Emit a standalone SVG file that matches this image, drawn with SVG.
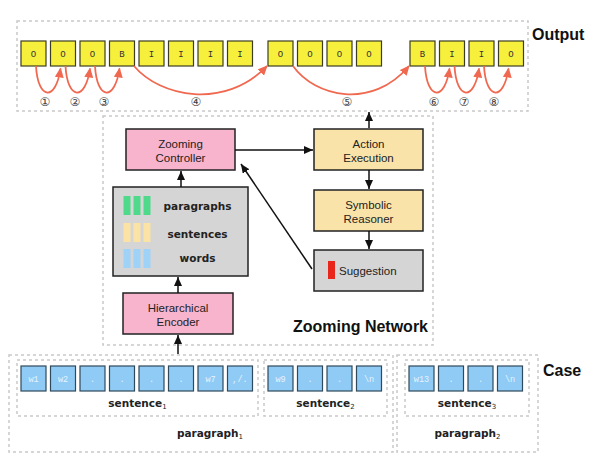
<svg xmlns="http://www.w3.org/2000/svg" width="596" height="473" viewBox="0 0 596 473">
<defs>
<style>
.dash{fill:none;stroke:#c9c9c9;stroke-width:1.5;stroke-dasharray:3 3}
.tag{fill:#f6ef3c;stroke:#3d3d24;stroke-width:1.2}
.tagt{font-family:"Liberation Mono",monospace;font-size:9px;fill:#333;text-anchor:middle}
.word{fill:#8fcbf5;stroke:#2f4a5c;stroke-width:1.2}
.wordt{font-family:"Liberation Mono",monospace;font-size:8.5px;fill:#e6f3fd;text-anchor:middle}
.pink{fill:#f8b4cd;stroke:#222;stroke-width:1.5}
.tan{fill:#fae3a9;stroke:#222;stroke-width:1.5}
.gray{fill:#d5d5d5;stroke:#222;stroke-width:1.5}
.lbl{font-family:"Liberation Sans",Arial,sans-serif;font-size:11.5px;fill:#222;text-anchor:middle}
.lbls{font-family:"Liberation Sans",Arial,sans-serif;font-size:11.5px;fill:#222;text-anchor:start}
.bold{font-family:"DejaVu Sans",sans-serif;font-weight:bold;font-size:10.5px;fill:#222;text-anchor:middle}
.head{font-family:"Liberation Sans",Arial,sans-serif;font-weight:bold;font-size:16px;fill:#111}
.red{fill:none;stroke:#f0684f;stroke-width:1.8;marker-end:url(#ra)}
.blk{fill:none;stroke:#111;stroke-width:1.5;marker-end:url(#ba)}
.num{font-family:"DejaVu Sans",sans-serif;font-size:12px;fill:#444;text-anchor:middle}
</style>
<marker id="ra" markerUnits="userSpaceOnUse" markerWidth="10" markerHeight="9" refX="9" refY="4.5" orient="auto"><path d="M0,0 L10,4.5 L0,9 z" fill="#f0684f"/></marker>
<marker id="ba" markerUnits="userSpaceOnUse" markerWidth="9" markerHeight="8" refX="9" refY="4" orient="auto"><path d="M0,0 L9,4 L0,8 z" fill="#111"/></marker>
</defs>
<rect width="596" height="473" fill="#fff"/>

<g id="output">
<rect class="dash" x="17" y="21" width="511" height="90"/>
<text class="head" x="532" y="40">Output</text>
<rect class="tag" x="21" y="41" width="25" height="25"/><text class="tagt" x="33.5" y="57">O</text>
<rect class="tag" x="50.5" y="41" width="25" height="25"/><text class="tagt" x="63" y="57">O</text>
<rect class="tag" x="80" y="41" width="25" height="25"/><text class="tagt" x="92.5" y="57">O</text>
<rect class="tag" x="109.5" y="41" width="25" height="25"/><text class="tagt" x="122" y="57">B</text>
<rect class="tag" x="139" y="41" width="25" height="25"/><text class="tagt" x="151.5" y="57">I</text>
<rect class="tag" x="168.5" y="41" width="25" height="25"/><text class="tagt" x="181" y="57">I</text>
<rect class="tag" x="198" y="41" width="25" height="25"/><text class="tagt" x="210.5" y="57">I</text>
<rect class="tag" x="227.5" y="41" width="25" height="25"/><text class="tagt" x="240" y="57">I</text>
<rect class="tag" x="268" y="41" width="25" height="25"/><text class="tagt" x="280.5" y="57">O</text>
<rect class="tag" x="297.5" y="41" width="25" height="25"/><text class="tagt" x="310" y="57">O</text>
<rect class="tag" x="327" y="41" width="25" height="25"/><text class="tagt" x="339.5" y="57">O</text>
<rect class="tag" x="356.5" y="41" width="25" height="25"/><text class="tagt" x="369" y="57">O</text>
<rect class="tag" x="410" y="41" width="25" height="25"/><text class="tagt" x="422.5" y="57">B</text>
<rect class="tag" x="439.5" y="41" width="25" height="25"/><text class="tagt" x="452" y="57">I</text>
<rect class="tag" x="469" y="41" width="25" height="25"/><text class="tagt" x="481.5" y="57">I</text>
<rect class="tag" x="498.5" y="41" width="25" height="25"/><text class="tagt" x="511" y="57">O</text>
<text class="num" x="45" y="106">①</text>
<text class="num" x="75" y="106">②</text>
<text class="num" x="104" y="106">③</text>
<text class="num" x="196" y="106">④</text>
<text class="num" x="347" y="106">⑤</text>
<text class="num" x="434" y="106">⑥</text>
<text class="num" x="464" y="106">⑦</text>
<text class="num" x="494" y="106">⑧</text>
</g>

<g id="zooming-network">
<rect class="dash" x="103" y="116" width="330" height="229"/>
<text class="head" x="428" y="332" text-anchor="end">Zooming Network</text>
</g>

<g id="zooming-controller">
<rect class="pink" x="126" y="129" width="109" height="41"/>
<text class="lbl" x="180.5" y="147.5">Zooming</text>
<text class="lbl" x="180.5" y="161.5">Controller</text>
</g>

<g id="action-execution">
<rect class="tan" x="314" y="129" width="109" height="41"/>
<text class="lbl" x="368.5" y="147.5">Action</text>
<text class="lbl" x="368.5" y="161.5">Execution</text>
</g>

<g id="symbolic-reasoner">
<rect class="tan" x="314" y="190" width="109" height="41"/>
<text class="lbl" x="368.5" y="208.5">Symbolic</text>
<text class="lbl" x="368.5" y="222.5">Reasoner</text>
</g>

<g id="suggestion">
<rect class="gray" x="314" y="250" width="109" height="41"/>
<rect x="328" y="261" width="7" height="18" fill="#e8261c"/>
<text class="lbls" x="339" y="274.5">Suggestion</text>
</g>

<g id="representations">
<rect class="gray" x="113" y="187" width="135" height="89"/>
<rect x="123.5" y="196" width="7" height="19" fill="#4fd98b"/>
<rect x="133.5" y="196" width="7" height="19" fill="#4fd98b"/>
<rect x="143.5" y="196" width="7" height="19" fill="#4fd98b"/>
<rect x="123.5" y="223" width="7" height="19" fill="#fbe3a6"/>
<rect x="133.5" y="223" width="7" height="19" fill="#fbe3a6"/>
<rect x="143.5" y="223" width="7" height="19" fill="#fbe3a6"/>
<rect x="123.5" y="249" width="7" height="19" fill="#9fd2f7"/>
<rect x="133.5" y="249" width="7" height="19" fill="#9fd2f7"/>
<rect x="143.5" y="249" width="7" height="19" fill="#9fd2f7"/>
<text class="bold" x="197.5" y="210">paragraphs</text>
<text class="bold" x="197.5" y="238">sentences</text>
<text class="bold" x="197.5" y="262">words</text>
</g>

<g id="hierarchical-encoder">
<rect class="pink" x="123" y="293" width="110" height="41"/>
<text class="lbl" x="178" y="312">Hierarchical</text>
<text class="lbl" x="178" y="326">Encoder</text>
</g>

<g id="case">
<text class="head" x="543" y="376">Case</text>
<rect class="dash" x="9" y="355" width="384" height="97"/>
<rect class="dash" x="397" y="355" width="141" height="97"/>
<rect class="dash" x="17" y="360" width="241" height="56"/>
<rect class="dash" x="264" y="360" width="123" height="56"/>
<rect class="dash" x="405" y="360" width="124" height="56"/>
<rect class="word" x="21" y="366" width="25" height="25"/><text class="wordt" x="33.5" y="381.5">w1</text>
<rect class="word" x="50.5" y="366" width="25" height="25"/><text class="wordt" x="63" y="381.5">w2</text>
<rect class="word" x="80" y="366" width="25" height="25"/><text class="wordt" x="92.5" y="381.5">.</text>
<rect class="word" x="109.5" y="366" width="25" height="25"/><text class="wordt" x="122" y="381.5">.</text>
<rect class="word" x="139" y="366" width="25" height="25"/><text class="wordt" x="151.5" y="381.5">.</text>
<rect class="word" x="168.5" y="366" width="25" height="25"/><text class="wordt" x="181" y="381.5">.</text>
<rect class="word" x="198" y="366" width="25" height="25"/><text class="wordt" x="210.5" y="381.5">w7</text>
<rect class="word" x="227.5" y="366" width="25" height="25"/><text class="wordt" x="240" y="381.5">,/.</text>
<rect class="word" x="268" y="366" width="25" height="25"/><text class="wordt" x="280.5" y="381.5">w9</text>
<rect class="word" x="297.5" y="366" width="25" height="25"/><text class="wordt" x="310" y="381.5">.</text>
<rect class="word" x="327" y="366" width="25" height="25"/><text class="wordt" x="339.5" y="381.5">.</text>
<rect class="word" x="356.5" y="366" width="25" height="25"/><text class="wordt" x="369" y="381.5">\n</text>
<rect class="word" x="409" y="366" width="25" height="25"/><text class="wordt" x="421.5" y="381.5">w13</text>
<rect class="word" x="438.5" y="366" width="25" height="25"/><text class="wordt" x="451" y="381.5">.</text>
<rect class="word" x="468" y="366" width="25" height="25"/><text class="wordt" x="480.5" y="381.5">.</text>
<rect class="word" x="497.5" y="366" width="25" height="25"/><text class="wordt" x="510" y="381.5">\n</text>
<text class="bold" x="137.5" y="407">sentence<tspan font-size="7" font-weight="normal" dy="1.5">1</tspan></text>
<text class="bold" x="325.5" y="407">sentence<tspan font-size="7" font-weight="normal" dy="1.5">2</tspan></text>
<text class="bold" x="467" y="407">sentence<tspan font-size="7" font-weight="normal" dy="1.5">3</tspan></text>
<text class="bold" x="210" y="437">paragraph<tspan font-size="7" font-weight="normal" dy="1.5">1</tspan></text>
<text class="bold" x="467.5" y="437">paragraph<tspan font-size="7" font-weight="normal" dy="1.5">2</tspan></text>
</g>

<g id="connectors">
<path class="red" d="M36,66 C38,101 56,101 60.5,68.5"/>
<path class="red" d="M65.5,66 C67.5,101 85.5,101 90,68.5"/>
<path class="red" d="M95,66 C97,101 115,101 119.5,68.5"/>
<path class="red" d="M134,66 C160,97 225,110 267,66"/>
<path class="red" d="M293,66 C315,97 372,110 409,66"/>
<path class="red" d="M425,66 C427,101 445,101 449.5,68.5"/>
<path class="red" d="M454.5,66 C456.5,101 474.5,101 479,68.5"/>
<path class="red" d="M484,66 C486,101 504,101 508.5,68.5"/>
<path class="blk" d="M369,128 L369,112"/>
<path class="blk" d="M235,150 L313,150"/>
<path class="blk" d="M369,170 L369,189"/>
<path class="blk" d="M369,231 L369,249"/>
<path class="blk" d="M312,269 L241,164"/>
<path class="blk" d="M181,187 L181,171"/>
<path class="blk" d="M178,293 L178,277"/>
<path class="blk" d="M178,354 L178,335"/>
</g>
</svg>
